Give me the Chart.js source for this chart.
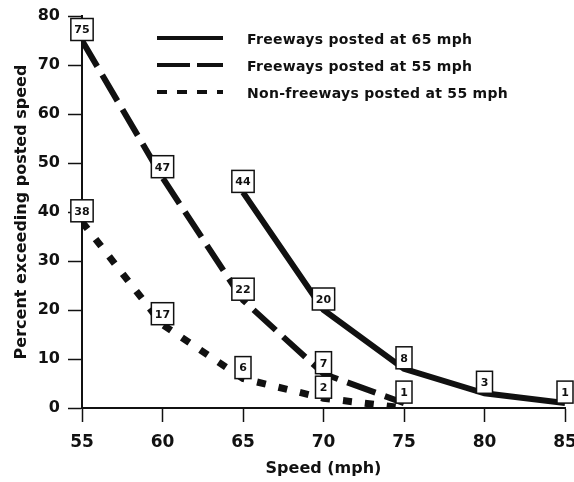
<!DOCTYPE html>
<html>
<head>
<meta charset="utf-8">
<script src="https://cdn.jsdelivr.net/npm/chart.js@4"></script>
<style>
  html,body{margin:0;padding:0;background:#fff;}
  #wrap{width:574px;height:482px;}
</style>
</head>
<body>
<div id="wrap"><canvas id="speedChart"></canvas></div>
<script>
// data
const speedsFw65 = [65, 70, 75, 80, 85];
const fw65 = [44, 20, 8, 3, 1];
const speeds55 = [55, 60, 65, 70, 75];
const fw55 = [75, 47, 22, 7, 1];
const nf55 = [38, 17, 6, 2, 0];
const nf55Labels = ["38", "17", "6", "2", null];
const seriesNames = ["Freeways posted at 65 mph", "Freeways posted at 55 mph", "Non-freeways posted at 55 mph"];
const yTicks = [0, 10, 20, 30, 40, 50, 60, 70, 80];
const xTicks = [55, 60, 65, 70, 75, 80, 85];

const ink = "#111";
const FONT = "'DejaVu Sans', Verdana, sans-serif";

function pts(xs, ys){ return xs.map((x,i)=>({x:x, y:ys[i]})); }

// boxed value labels above each point
const boxLabels = {
  id: "boxLabels",
  afterDatasetsDraw(chart){
    const ctx = chart.ctx;
    ctx.save();
    ctx.font = "bold 11px " + FONT;
    ctx.textAlign = "center";
    ctx.textBaseline = "middle";
    chart.data.datasets.forEach((ds, di)=>{
      const meta = chart.getDatasetMeta(di);
      meta.data.forEach((p, i)=>{
        const txt = ds.boxText[i];
        if(txt===null || txt===undefined) return;
        const w = Math.max(ctx.measureText(txt).width + 7, 16);
        const h = 22;
        const x = p.x - w/2, y = p.y - h;
        ctx.fillStyle = "#fff";
        ctx.fillRect(x, y, w, h);
        ctx.lineWidth = 1.5;
        ctx.strokeStyle = ink;
        ctx.strokeRect(x, y, w, h);
        ctx.fillStyle = ink;
        ctx.fillText(txt, p.x, y + h/2 + 1);
      });
    });
    ctx.restore();
  }
};

// legend drawn by hand to get the line samples right
const lineLegend = {
  id: "lineLegend",
  afterDraw(chart){
    const ctx = chart.ctx;
    ctx.save();
    chart.data.datasets.forEach((ds, i)=>{
      const y = 38 + i*27;
      ctx.beginPath();
      ctx.setLineDash(ds.legendDash);
      ctx.lineWidth = 4;
      ctx.strokeStyle = ink;
      ctx.moveTo(157, y);
      ctx.lineTo(223, y);
      ctx.stroke();
      ctx.setLineDash([]);
      ctx.fillStyle = ink;
      ctx.font = "bold 14px " + FONT;
      ctx.letterSpacing = "0.3px";
      ctx.textAlign = "left";
      ctx.textBaseline = "middle";
      ctx.fillText(ds.label, 247, y + 2);
    });
    ctx.restore();
  }
};

new Chart(document.getElementById("speedChart"), {
  type: "line",
  data: {
    datasets: [
      {label: seriesNames[0], data: pts(speedsFw65, fw65), boxText: fw65.map(String),
       borderColor: ink, borderWidth: 6, borderDash: [], legendDash: []},
      {label: seriesNames[1], data: pts(speeds55, fw55), boxText: fw55.map(String),
       borderColor: ink, borderWidth: 6, borderDash: [30, 10], legendDash: [33, 7]},
      {label: seriesNames[2], data: pts(speeds55, nf55), boxText: nf55Labels,
       borderColor: ink, borderWidth: 7, borderDash: [9, 13], legendDash: [10, 10]}
    ]
  },
  options: {
    responsive: true,
    maintainAspectRatio: false,
    animation: false,
    layout: {padding: {top: 16, right: 9, left: 0, bottom: 0}},
    elements: {point: {radius: 0}, line: {tension: 0, borderCapStyle: "butt"}},
    plugins: {legend: {display: false}, tooltip: {enabled: false}},
    scales: {
      x: {
        type: "linear", min: 55, max: 85,
        afterBuildTicks: s=>{ s.ticks = xTicks.map(v=>({value:v})); },
        afterFit: s=>{ s.height = 74; s.paddingLeft = 0; s.paddingRight = 0; },
        grid: {drawOnChartArea: false, tickLength: 14, tickColor: ink, tickWidth: 1.5},
        border: {color: ink, width: 2},
        ticks: {color: ink, padding: 10, maxRotation: 0, font: {family: FONT, size: 17, weight: "bold"}},
        title: {display: true, text: "Speed (mph)", color: ink, padding: {top: 0, bottom: 4},
                font: {family: FONT, size: 16, weight: "bold"}}
      },
      y: {
        min: 0, max: 80,
        afterBuildTicks: s=>{ s.ticks = yTicks.map(v=>({value:v})); },
        afterFit: s=>{ s.width = 82; s.paddingTop = 0; s.paddingBottom = 0; },
        grid: {drawOnChartArea: false, tickLength: 14, tickColor: ink, tickWidth: 1.5},
        border: {color: ink, width: 2},
        ticks: {color: ink, padding: 8, font: {family: FONT, size: 16, weight: "bold"}},
        title: {display: true, text: "Percent exceeding posted speed", color: ink, padding: {top: 12, bottom: 0},
                font: {family: FONT, size: 16, weight: "bold"}}
      }
    }
  },
  plugins: [boxLabels, lineLegend]
});
</script>
</body>
</html>
